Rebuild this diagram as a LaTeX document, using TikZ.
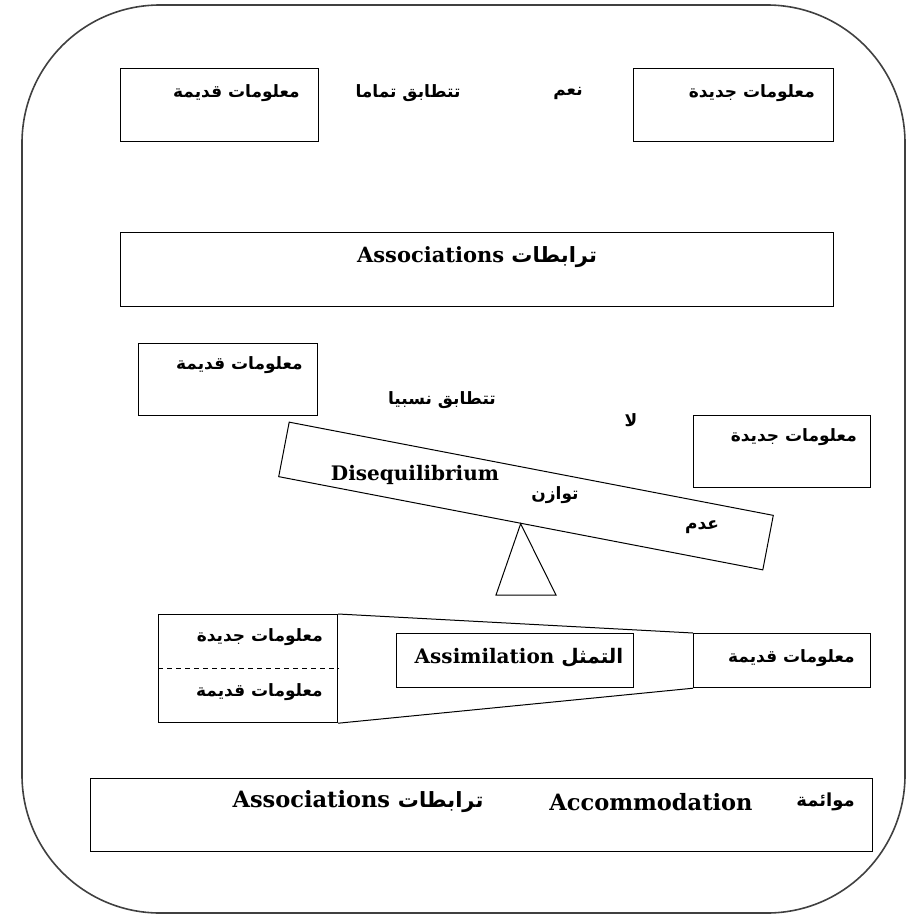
\documentclass[tikz,border=0pt]{standalone}
\usepackage{fontspec}
\setmainfont{DejaVu Serif}
\newfontfamily\arabicfont[Script=Arabic]{DejaVu Sans}
\TeXXeTstate=1
\newcommand\artext[1]{{\arabicfont\bfseries\beginR #1\endR}}
\begin{document}
\begin{tikzpicture}[x=1pt,y=-1pt,
  frame/.style={draw=black!75,line width=1.6pt,rounded corners=138pt},
  box/.style={draw,line width=1.2pt,inner sep=0pt,anchor=north west},
  link/.style={line width=1pt},
  ar/.style={inner sep=0pt,font=\fontsize{17}{19}\selectfont},
  en/.style={inner sep=0pt,font=\fontsize{20}{22}\selectfont\bfseries},
  enmid/.style={inner sep=0pt,font=\fontsize{21}{23}\selectfont\bfseries},
  enbig/.style={inner sep=0pt,font=\fontsize{22.5}{24}\selectfont\bfseries}]
\useasboundingbox (0,0) rectangle (912,924);
\draw[frame] (22,5) rectangle (905,913);

% top row: old and new information, full match
\node[box,minimum width=198pt,minimum height=73pt] (oldTop) at (120,68) {};
\node[box,minimum width=200pt,minimum height=73pt] (newTop) at (633,68) {};
\node[ar,anchor=east] (tOldTop) at (300,93) {\artext{معلومات قديمة}};
\node[ar] (tMatchFull) at (408,93) {\artext{تتطابق تماما}};
\node[ar] (tYes) at (568,93) {\artext{نعم}};
\node[ar,anchor=east] (tNewTop) at (815,93) {\artext{معلومات جديدة}};

% associations
\node[box,minimum width=713pt,minimum height=74pt] (assoc) at (120,232) {};
\node[enmid] (tAssoc) at (477,257) {Associations~\artext{\fontsize{21}{23}\selectfont ترابطات}};

% middle row: partial match
\node[box,minimum width=179pt,minimum height=72pt] (oldMid) at (138,343) {};
\node[ar,anchor=east] (tOldMid) at (303,365) {\artext{معلومات قديمة}};
\node[ar] (tMatchPart) at (442,400) {\artext{تتطابق نسبيا}};
\node[ar] (tNo) at (631,420) {\artext{لا}};
\node[box,minimum width=177pt,minimum height=72pt] (newMid) at (693,415) {};
\node[ar,anchor=east] (tNewMid) at (857,437) {\artext{معلومات جديدة}};

% tilted beam on its pivot
\node[draw,line width=1pt,rotate=-10.9,minimum width=493pt,minimum height=55.5pt,inner sep=0pt] (beam) at (526,496) {};
\coordinate (pivotL) at (496,595);
\coordinate (pivotR) at (556,595);
\draw[link] (beam.south) -- (pivotR) -- (pivotL) -- cycle;
\node[en] (tDis) at (415,475) {Disequilibrium};
\node[ar] (tBal) at (555,495) {\artext{توازن}};
\node[ar] (tNot) at (702,527) {\artext{عدم}};

% assimilation
\node[box,minimum width=179pt,minimum height=108pt] (low) at (158,614) {};
\draw[dashed,line width=1pt,dash pattern=on 5pt off 4pt] (low.west) -- (low.east);
\node[ar,anchor=east] (tNewLow) at (323,637) {\artext{معلومات جديدة}};
\node[ar,anchor=east] (tOldLow) at (323,692) {\artext{معلومات قديمة}};
\node[box,minimum width=237pt,minimum height=54pt] (assim) at (396,633) {};
\node[box,minimum width=177pt,minimum height=54pt] (oldRight) at (693,633) {};
\draw[link] (low.north east) -- (oldRight.north west);
\draw[link] (low.south east) -- (oldRight.south west);
\node[en] (tAssim) at (519,658) {Assimilation~\artext{التمثل}};
\node[ar,anchor=east] (tOldRight) at (855,658) {\artext{معلومات قديمة}};

% accommodation
\node[box,minimum width=782pt,minimum height=73pt] (bottom) at (90,778) {};
\node[enbig] (tAssoc2) at (358,802) {Associations~\artext{\fontsize{21}{23}\selectfont ترابطات}};
\node[enbig] (tAccom) at (651,802) {Accommodation};
\node[ar,anchor=east] (tAccomAr) at (855,802) {\artext{\fontsize{18}{20}\selectfont موائمة}};
\end{tikzpicture}
\end{document}
